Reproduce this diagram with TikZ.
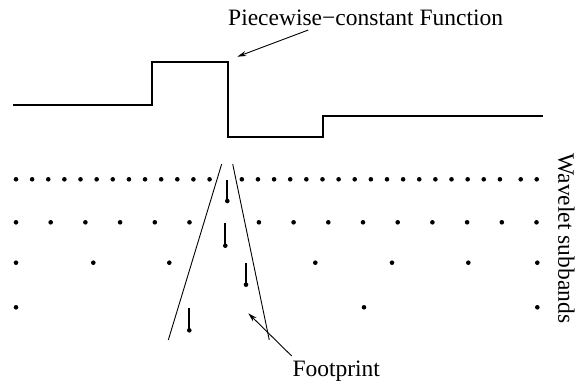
\documentclass[tikz,border=0pt]{standalone}
\usepackage{fontspec}
\setmainfont{Liberation Serif}
\usetikzlibrary{arrows.meta}
\begin{document}
\begin{tikzpicture}[x=1pt,y=-1pt,
  stepline/.style={line width=2pt, line join=miter},
  stem/.style={line width=1.7pt},
  edgeline/.style={line width=0.9pt},
  coef/.style={fill=black},
  pointer/.style={line width=0.9pt,-{Stealth[length=9pt,width=5pt]}},
  lbl/.style={font=\fontsize{23.5}{28}\selectfont, inner sep=0pt}]
\useasboundingbox (0,0) rectangle (581,383);
% piecewise-constant function
\draw[stepline] (13.3,105) -- (152.3,105) -- (152.3,62.3) -- (227.7,62.3) -- (227.7,137.3) -- (323.3,137.3) -- (323.3,115.7) -- (542.7,115.7);
% labels
\node[lbl, anchor=base west] (pc) at (228,25) {Piecewise−constant Function};
\node[lbl, anchor=base west] (fp) at (292.3,376.7) {Footprint};
\node[lbl, anchor=base west, rotate=-90] (ws) at (558.3,153.3) {Wavelet subbands};
% arrows
\coordinate (pcTail) at (308.3,30);
\coordinate (pcTip) at (237.3,56.7);
\coordinate (fpTail) at (291.7,356);
\coordinate (fpTip) at (248.3,313.3);
\draw[pointer] (pcTail) -- (pcTip);
\draw[pointer] (fpTail) -- (fpTip);
% footprint cone
\coordinate (lt) at (221.7,164);
\coordinate (lb) at (168.3,340);
\coordinate (rt) at (232.7,164);
\coordinate (rb) at (269.3,340);
\draw[edgeline] (lt) -- (lb);
\draw[edgeline] (rt) -- (rb);
% row 1
\foreach \k in {0,...,30} {\ifnum\k=13\else \fill[coef] (16+16.13*\k,179.3) circle[radius=2.3pt];\fi}
\fill[coef] (520.7,179.3) circle[radius=2.3pt];
\fill[coef] (536.7,179.3) circle[radius=2.3pt];
% row 2
\foreach \k in {0,...,15} {\ifnum\k=6\else \fill[coef] (16+34.7*\k,222.3) circle[radius=2.3pt];\fi}
% row 3
\foreach \x in {16,93.3,169.3,315.3,392,468.3,537.3} {\fill[coef] (\x,262.7) circle[radius=2.3pt];}
% row 4
\foreach \x in {16,364,537.3} {\fill[coef] (\x,307.3) circle[radius=2.3pt];}
% displaced coefficients with stems
\draw[stem] (227.3,180) -- (227.3,201); \fill[coef] (227.3,201) circle[radius=2.3pt];
\draw[stem] (225.3,223.3) -- (225.3,245.7); \fill[coef] (225.3,245.7) circle[radius=2.3pt];
\draw[stem] (246,263.3) -- (246,284.7); \fill[coef] (246,284.7) circle[radius=2.3pt];
\draw[stem] (189.3,308.3) -- (189.3,330.3); \fill[coef] (189.3,330.3) circle[radius=2.3pt];
\end{tikzpicture}
\end{document}
